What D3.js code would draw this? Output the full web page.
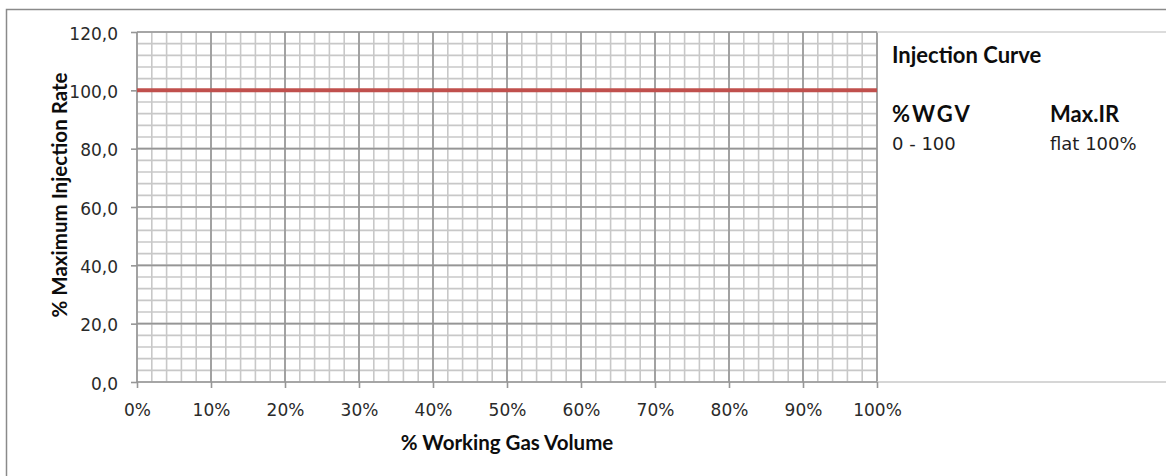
<!DOCTYPE html>
<html>
<head>
<meta charset="utf-8">
<script src="https://cdn.jsdelivr.net/npm/d3@7"></script>
<style>
	body { margin: 0; background: #fff; }
	svg { display: block; }
	.tickText { font-family: 'DejaVu Sans', sans-serif; font-size: 17px; fill: #2a2a2a; }
	.title { font-family: Lato, sans-serif; font-weight: bold; fill: #0d0d0d; }
	.legendText { font-family: 'DejaVu Sans', sans-serif; font-size: 18px; fill: #1e1e1e; }
</style>
</head>
<body>
<svg id="chart" width="1166" height="476"></svg>
<script>
// data
var wgv = [0, 100];            // % working gas volume
var maxInjection = [100, 100]; // % maximum injection rate
var xTicks = [0, 10, 20, 30, 40, 50, 60, 70, 80, 90, 100];
var yTicks = [0, 20, 40, 60, 80, 100, 120];
var legendTitle = 'Injection Curve';
var legendHeaders = ['%WGV', 'Max.IR'];
var legendRow = ['0 - 100', 'flat 100%'];

var svg = d3.select('#chart');

// outer frame
svg.append('rect')
	.attr('x', 6.5).attr('y', 9.5).attr('width', 1200).attr('height', 500)
	.attr('fill', 'none').attr('stroke', '#8a8a8a').attr('stroke-width', 1.5);

var x = d3.scaleLinear().domain([0, 100]).range([137, 877]);
var y = d3.scaleLinear().domain([0, 120]).range([382, 32]);

// minor grid
var grid = svg.append('g');
grid.selectAll('line.minorX').data(d3.range(0, 101, 2))
	.enter().append('line')
	.attr('x1', function(d) { return x(d); }).attr('x2', function(d) { return x(d); })
	.attr('y1', y(0)).attr('y2', y(120))
	.attr('stroke', '#c8c8c8').attr('stroke-width', 1.6);
grid.selectAll('line.minorY').data(d3.range(0, 121, 4))
	.enter().append('line')
	.attr('x1', x(0)).attr('x2', x(100))
	.attr('y1', function(d) { return y(d); }).attr('y2', function(d) { return y(d); })
	.attr('stroke', '#c8c8c8').attr('stroke-width', 1.6);

// major grid
grid.selectAll('line.majorX').data(xTicks)
	.enter().append('line')
	.attr('x1', function(d) { return x(d); }).attr('x2', function(d) { return x(d); })
	.attr('y1', y(0)).attr('y2', y(120))
	.attr('stroke', '#969696').attr('stroke-width', 1.6);
grid.selectAll('line.majorY').data(yTicks)
	.enter().append('line')
	.attr('x1', x(0)).attr('x2', x(100))
	.attr('y1', function(d) { return y(d); }).attr('y2', function(d) { return y(d); })
	.attr('stroke', '#969696').attr('stroke-width', 1.6);

// plot area lines that run to the right edge
svg.append('line').attr('x1', x(100)).attr('x2', 1166).attr('y1', y(120)).attr('y2', y(120))
	.attr('stroke', '#d0d0d0').attr('stroke-width', 1.5);
svg.append('line').attr('x1', x(100)).attr('x2', 1166).attr('y1', y(0)).attr('y2', y(0))
	.attr('stroke', '#c8c8c8').attr('stroke-width', 1.5);

// axes
var yAxis = d3.axisLeft(y).tickValues(yTicks).tickSize(6).tickPadding(13)
	.tickFormat(function(d) { return d3.format('.1f')(d).replace('.', ','); });
var gy = svg.append('g').attr('transform', 'translate(' + x(0) + ',0)').call(yAxis);

var xAxis = d3.axisBottom(x).tickValues(xTicks).tickSize(6).tickPadding(18)
	.tickFormat(function(d) { return d + '%'; });
var gx = svg.append('g').attr('transform', 'translate(0,' + y(0) + ')').call(xAxis);

[gx, gy].forEach(function(g) {
	g.select('.domain').remove();
	g.selectAll('.tick line').attr('stroke', '#969696').attr('stroke-width', 1.6);
	g.selectAll('.tick text').attr('class', 'tickText').attr('fill', null);
});
gx.selectAll('.tick text').attr('dy', '0.6em');
gy.selectAll('.tick text').attr('dy', '0.42em');

// series
var line = d3.line()
	.x(function(d) { return x(d[0]); })
	.y(function(d) { return y(d[1]); });
svg.append('path')
	.datum(d3.zip(wgv, maxInjection))
	.attr('d', line)
	.attr('fill', 'none').attr('stroke', '#c0504d').attr('stroke-width', 4);

// axis titles
svg.append('text').attr('class', 'title')
	.attr('x', 507).attr('y', 450).attr('text-anchor', 'middle')
	.style('font-size', '20.5px')
	.text('% Working Gas Volume');
svg.append('text').attr('class', 'title')
	.attr('transform', 'translate(67,195) rotate(-90)').attr('text-anchor', 'middle')
	.style('font-size', '20.5px')
	.text('% Maximum  Injection Rate');

// legend / note box
svg.append('text').attr('class', 'title')
	.attr('x', 892).attr('y', 63).style('font-size', '22px')
	.text(legendTitle);
svg.selectAll('text.head').data(legendHeaders)
	.enter().append('text').attr('class', 'title head')
	.attr('x', function(d, i) { return i == 0 ? 892 : 1050; }).attr('y', 122)
	.style('font-size', '22px').style('letter-spacing', function(d, i) { return i == 0 ? '2px' : null; })
	.text(function(d) { return d; });
svg.selectAll('text.row').data(legendRow)
	.enter().append('text').attr('class', 'legendText row')
	.attr('x', function(d, i) { return i == 0 ? 892 : 1050; }).attr('y', 150)
	.text(function(d) { return d; });
</script>
</body>
</html>
